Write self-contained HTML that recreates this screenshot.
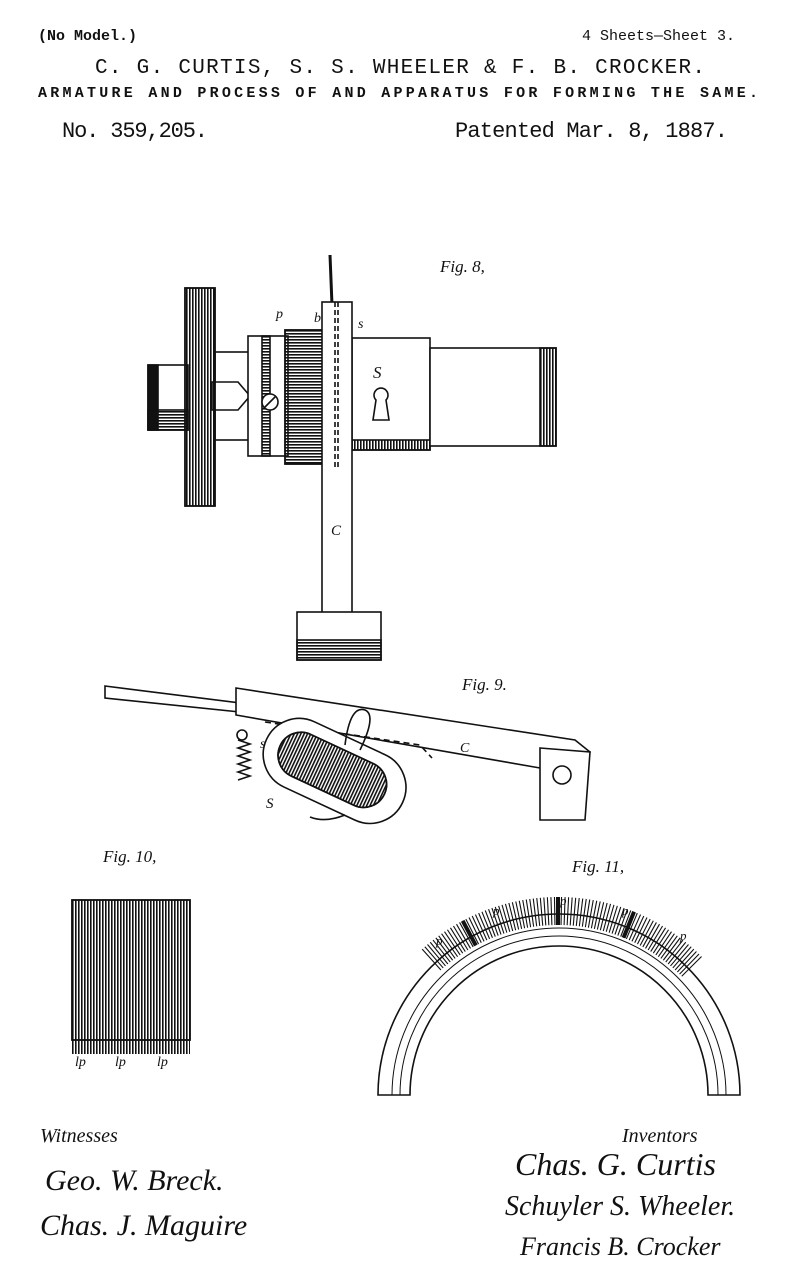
<!DOCTYPE html>
<html><head><meta charset="utf-8"><style>
html,body{margin:0;padding:0;background:#fff;}
svg{display:block}
text{fill:#111}
</style></head><body>
<svg width="805" height="1280" viewBox="0 0 805 1280" xmlns="http://www.w3.org/2000/svg" font-family="Liberation Serif, serif">
<defs>
<pattern id="vl" width="3" height="10" patternUnits="userSpaceOnUse"><rect width="1.6" height="10" fill="#111"/></pattern>
<pattern id="hl" width="10" height="3" patternUnits="userSpaceOnUse"><rect width="10" height="1.6" fill="#111"/></pattern>
</defs>
<!-- header -->
<text x="38" y="40" font-size="15" font-weight="bold" style="font-family:'Liberation Mono',monospace">(No Model.)</text>
<text x="735" y="40" font-size="15" text-anchor="end" style="font-family:'Liberation Mono',monospace">4 Sheets—Sheet 3.</text>
<text x="400" y="73" font-size="21" text-anchor="middle" style="font-family:'Liberation Mono',monospace" textLength="610">C. G. CURTIS, S. S. WHEELER &amp; F. B. CROCKER.</text>
<text x="398" y="97" font-size="15" font-weight="bold" text-anchor="middle" style="font-family:'Liberation Mono',monospace" textLength="720">ARMATURE AND PROCESS OF AND APPARATUS FOR FORMING THE SAME.</text>
<text x="62" y="137" font-size="22" style="font-family:'Liberation Mono',monospace" textLength="146">No. 359,205.</text>
<text x="455" y="137" font-size="22" style="font-family:'Liberation Mono',monospace" textLength="273">Patented Mar. 8, 1887.</text>

<g stroke="#111" stroke-width="1.6" fill="#fff">
<!-- FIG 8 -->
<text x="440" y="272" font-size="17" font-style="italic" stroke="none">Fig. 8,</text>
<rect x="148" y="365" width="40" height="65" fill="#fff"/>
<rect x="148" y="365" width="10" height="65" fill="#111"/>
<rect x="148" y="410" width="40" height="20" fill="url(#hl)"/>
<rect x="215" y="352" width="50" height="88"/>
<polygon points="212,382 238,382 250,396 238,410 212,410"/>
<rect x="185" y="288" width="30" height="218" fill="url(#vl)"/>
<rect x="185" y="288" width="30" height="218" fill="none"/>
<rect x="248" y="336" width="40" height="120"/>
<rect x="262" y="336" width="8" height="120" fill="url(#hl)"/>
<circle cx="270" cy="402" r="8"/>
<line x1="264" y1="408" x2="276" y2="396"/>
<rect x="285" y="330" width="42" height="134" fill="url(#hl)"/>
<rect x="285" y="330" width="42" height="134" fill="none"/>
<rect x="352" y="338" width="78" height="112"/>
<rect x="352" y="440" width="78" height="10" fill="url(#vl)"/>
<path d="M376,400 a7,7 0 1 1 10,0 l3,20 h-16 z" fill="#fff"/>
<rect x="430" y="348" width="126" height="98"/>
<rect x="540" y="348" width="16" height="98" fill="url(#vl)"/>
<line x1="330" y1="255" x2="332" y2="305" stroke-width="3"/>
<rect x="322" y="302" width="30" height="322"/>
<line x1="335" y1="302" x2="335" y2="470" stroke-dasharray="5,3"/>
<line x1="338" y1="302" x2="338" y2="470" stroke-dasharray="5,3"/>
<rect x="297" y="612" width="84" height="48"/>
<rect x="297" y="640" width="84" height="20" fill="url(#hl)"/>
<text x="276" y="318" font-size="14" font-style="italic" stroke="none">p</text>
<text x="314" y="322" font-size="14" font-style="italic" stroke="none">b</text>
<text x="358" y="328" font-size="14" font-style="italic" stroke="none">s</text>
<text x="373" y="378" font-size="17" font-style="italic" stroke="none">S</text>
<text x="331" y="535" font-size="15" font-style="italic" stroke="none">C</text>

<!-- FIG 9 -->
<text x="462" y="690" font-size="17" font-style="italic" stroke="none">Fig. 9.</text>
<polygon points="105,686 240,703 240,712 105,698"/>
<polygon points="236,688 575,740 590,752 585,770 540,768 236,715"/>
<path d="M265,722 L420,745 L432,758" fill="none" stroke-dasharray="6,4"/>
<path d="M540,748 L590,752 L585,820 L540,820 Z"/>
<circle cx="562" cy="775" r="9"/>
<g transform="rotate(25 335 770)">
<rect x="260" y="735" width="150" height="72" rx="36"/>
<rect x="275" y="748" width="115" height="46" rx="23" fill="url(#vl)"/>
<rect x="275" y="748" width="115" height="46" rx="23" fill="none"/>
</g>
<path d="M345,745 q5,-40 20,-35 q12,5 -5,40" fill="none"/>
<path d="M238,740 l12,4 l-12,4 l12,4 l-12,4 l12,4 l-12,4 l12,4 l-12,4 l12,4 l-12,4" fill="none"/>
<circle cx="242" cy="735" r="5"/>
<path d="M345,815 q-20,8 -35,2" fill="none"/>
<text x="260" y="748" font-size="14" font-style="italic" stroke="none">s</text>
<text x="266" y="808" font-size="15" font-style="italic" stroke="none">S</text>
<text x="460" y="752" font-size="14" font-style="italic" stroke="none">C</text>

<!-- FIG 10 -->
<text x="103" y="862" font-size="17" font-style="italic" stroke="none">Fig. 10,</text>
<rect x="72" y="900" width="118" height="140" fill="url(#vl)"/>
<rect x="72" y="900" width="118" height="140" fill="none"/>
<rect x="72" y="1040" width="118" height="14" fill="url(#vl)" stroke="none"/>
<text x="75" y="1066" font-size="14" font-style="italic" stroke="none">lp</text>
<text x="115" y="1066" font-size="14" font-style="italic" stroke="none">lp</text>
<text x="157" y="1066" font-size="14" font-style="italic" stroke="none">lp</text>

<!-- FIG 11 -->
<text x="572" y="872" font-size="17" font-style="italic" stroke="none">Fig. 11,</text>
<path d="M378,1095 A181,181 0 0 1 740,1095 L708,1095 A149,149 0 0 0 410,1095 Z"/>
<path d="M392,1095 A167,167 0 0 1 726,1095" fill="none" stroke-width="1"/>
<path d="M400,1095 A159,159 0 0 1 718,1095" fill="none" stroke-width="1"/>
<text x="436" y="945" font-size="13" font-style="italic" stroke="none">p</text>
<text x="493" y="915" font-size="13" font-style="italic" stroke="none">p</text>
<text x="560" y="905" font-size="13" font-style="italic" stroke="none">p</text>
<text x="622" y="915" font-size="13" font-style="italic" stroke="none">p</text>
<text x="680" y="940" font-size="13" font-style="italic" stroke="none">p</text>
</g>
<g id="tt" stroke="#111" stroke-width="1.1"></g>

<!-- signatures -->
<text x="40" y="1142" font-size="20" font-style="italic">Witnesses</text>
<text x="622" y="1142" font-size="20" font-style="italic">Inventors</text>
<text x="45" y="1190" font-size="30" font-style="italic">Geo. W. Breck.</text>
<text x="40" y="1235" font-size="30" font-style="italic">Chas. J. Maguire</text>
<text x="515" y="1175" font-size="32" font-style="italic">Chas. G. Curtis</text>
<text x="505" y="1215" font-size="28" font-style="italic">Schuyler S. Wheeler.</text>
<text x="520" y="1255" font-size="26" font-style="italic">Francis B. Crocker</text>
</svg>
<script>
var g=document.getElementById('tt'),ns='http://www.w3.org/2000/svg',cx=558,cy=1100;
for(var a=132;a>=45;a-=1.0){var r=a*Math.PI/180,c=Math.cos(r),s=Math.sin(r);
var l=document.createElementNS(ns,'line');l.setAttribute('x1',cx+175*c);l.setAttribute('y1',cy-175*s);
l.setAttribute('x2',cx+203*c);l.setAttribute('y2',cy-203*s);g.appendChild(l);}
[118,90,68].forEach(function(a){var r=a*Math.PI/180,c=Math.cos(r),s=Math.sin(r);
var l=document.createElementNS(ns,'line');l.setAttribute('x1',cx+175*c);l.setAttribute('y1',cy-175*s);
l.setAttribute('x2',cx+203*c);l.setAttribute('y2',cy-203*s);l.setAttribute('stroke-width','4');g.appendChild(l);});
</script>
</body></html>
